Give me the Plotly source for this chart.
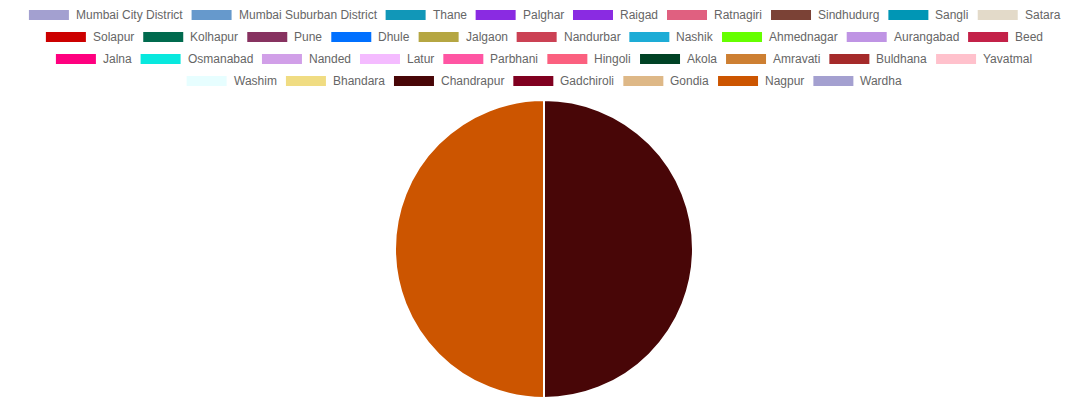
import plotly.graph_objects as go

districts = ["Mumbai City District", "Mumbai Suburban District", "Thane", "Palghar", "Raigad",
             "Ratnagiri", "Sindhudurg", "Sangli", "Satara", "Solapur", "Kolhapur", "Pune", "Dhule",
             "Jalgaon", "Nandurbar", "Nashik", "Ahmednagar", "Aurangabad", "Beed", "Jalna",
             "Osmanabad", "Nanded", "Latur", "Parbhani", "Hingoli", "Akola", "Amravati", "Buldhana",
             "Yavatmal", "Washim", "Bhandara", "Chandrapur", "Gadchiroli", "Gondia", "Nagpur", "Wardha"]
values = [0, 0, 0, 0, 0, 0, 0, 0, 0, 0, 0, 0, 0, 0, 0, 0, 0, 0, 0, 0,
          0, 0, 0, 0, 0, 0, 0, 0, 0, 0, 0, 1, 0, 0, 1, 0]
colors = ["#a3a0d0", "#6699cc", "#1197b8", "#8a2be2", "#8a2be2", "#e06080", "#7b4236", "#0096b5",
          "#e3dac9", "#cc0000", "#006a4e", "#873260", "#0070ff", "#b5a642", "#cb4154", "#1dacd6",
          "#66ff00", "#bf94e4", "#c32148", "#ff007f", "#08e8de", "#d19fe8", "#f4bbff", "#ff55a3",
          "#fb607f", "#004225", "#cd7f32", "#a52a2a", "#ffc1cc", "#e7feff", "#f0dc82", "#480607",
          "#800020", "#deb887", "#cc5500", "#a4a0d0"]
row_sizes = [9, 10, 10, 7]

# Helvetica/Arial advance widths (per 1000 em)
W = {' ': 278, 'a': 556, 'b': 556, 'c': 500, 'd': 556, 'e': 556, 'f': 278, 'g': 556, 'h': 556,
     'i': 222, 'j': 222, 'k': 500, 'l': 222, 'm': 833, 'n': 556, 'o': 556, 'p': 556, 'q': 556,
     'r': 333, 's': 500, 't': 278, 'u': 556, 'v': 500, 'w': 722, 'x': 500, 'y': 500, 'z': 500,
     'A': 667, 'B': 667, 'C': 722, 'D': 722, 'E': 667, 'F': 611, 'G': 778, 'H': 722, 'I': 278,
     'J': 500, 'K': 667, 'L': 556, 'M': 833, 'N': 722, 'O': 778, 'P': 667, 'Q': 778, 'R': 722,
     'S': 667, 'T': 611, 'U': 722, 'V': 667, 'W': 944, 'X': 667, 'Y': 667, 'Z': 611}
FS = 12


def tw(s):
    return sum(W.get(ch, 556) for ch in s) * FS / 1000.0


WIDTH, HEIGHT = 1088, 400
BOXW, BOXH, PAD, GAP = 40, 10, 10, 6
ROWH = 22
ROW0 = 15

fig = go.Figure()
fig.add_trace(go.Pie(
    labels=districts, values=values, sort=False, direction="clockwise", rotation=0,
    marker=dict(colors=colors, line=dict(color="white", width=2)),
    textinfo="none", showlegend=False,
    domain=dict(x=[0, 1], y=[(HEIGHT - 398) / HEIGHT, (HEIGHT - 100) / HEIGHT]),
))

shapes = []
annotations = []
idx = 0
for r, n in enumerate(row_sizes):
    items = list(range(idx, idx + n))
    idx += n
    widths = [BOXW + GAP + tw(districts[i]) for i in items]
    total = sum(widths) + PAD * (n - 1)
    x = (WIDTH - total) / 2
    yc = ROW0 + r * ROWH
    for i, w in zip(items, widths):
        shapes.append(dict(type="rect", xref="paper", yref="paper",
                           x0=x / WIDTH, x1=(x + BOXW) / WIDTH,
                           y0=1 - (yc + BOXH / 2) / HEIGHT, y1=1 - (yc - BOXH / 2) / HEIGHT,
                           fillcolor=colors[i], line=dict(width=0), layer="above"))
        annotations.append(dict(xref="paper", yref="paper", x=(x + BOXW + GAP - 1) / WIDTH,
                                y=1 - yc / HEIGHT, xanchor="left", yanchor="middle",
                                text=districts[i], showarrow=False,
                                font=dict(family="Liberation Sans, Arial", size=FS, color="#666666")))
        x += w + PAD

fig.update_layout(
    width=WIDTH, height=HEIGHT, margin=dict(l=0, r=0, t=0, b=0),
    paper_bgcolor="white", plot_bgcolor="white",
    shapes=shapes, annotations=annotations,
)
fig.write_html("out.html", config={"displayModeBar": False},
               post_script="document.body.style.margin='0';")
